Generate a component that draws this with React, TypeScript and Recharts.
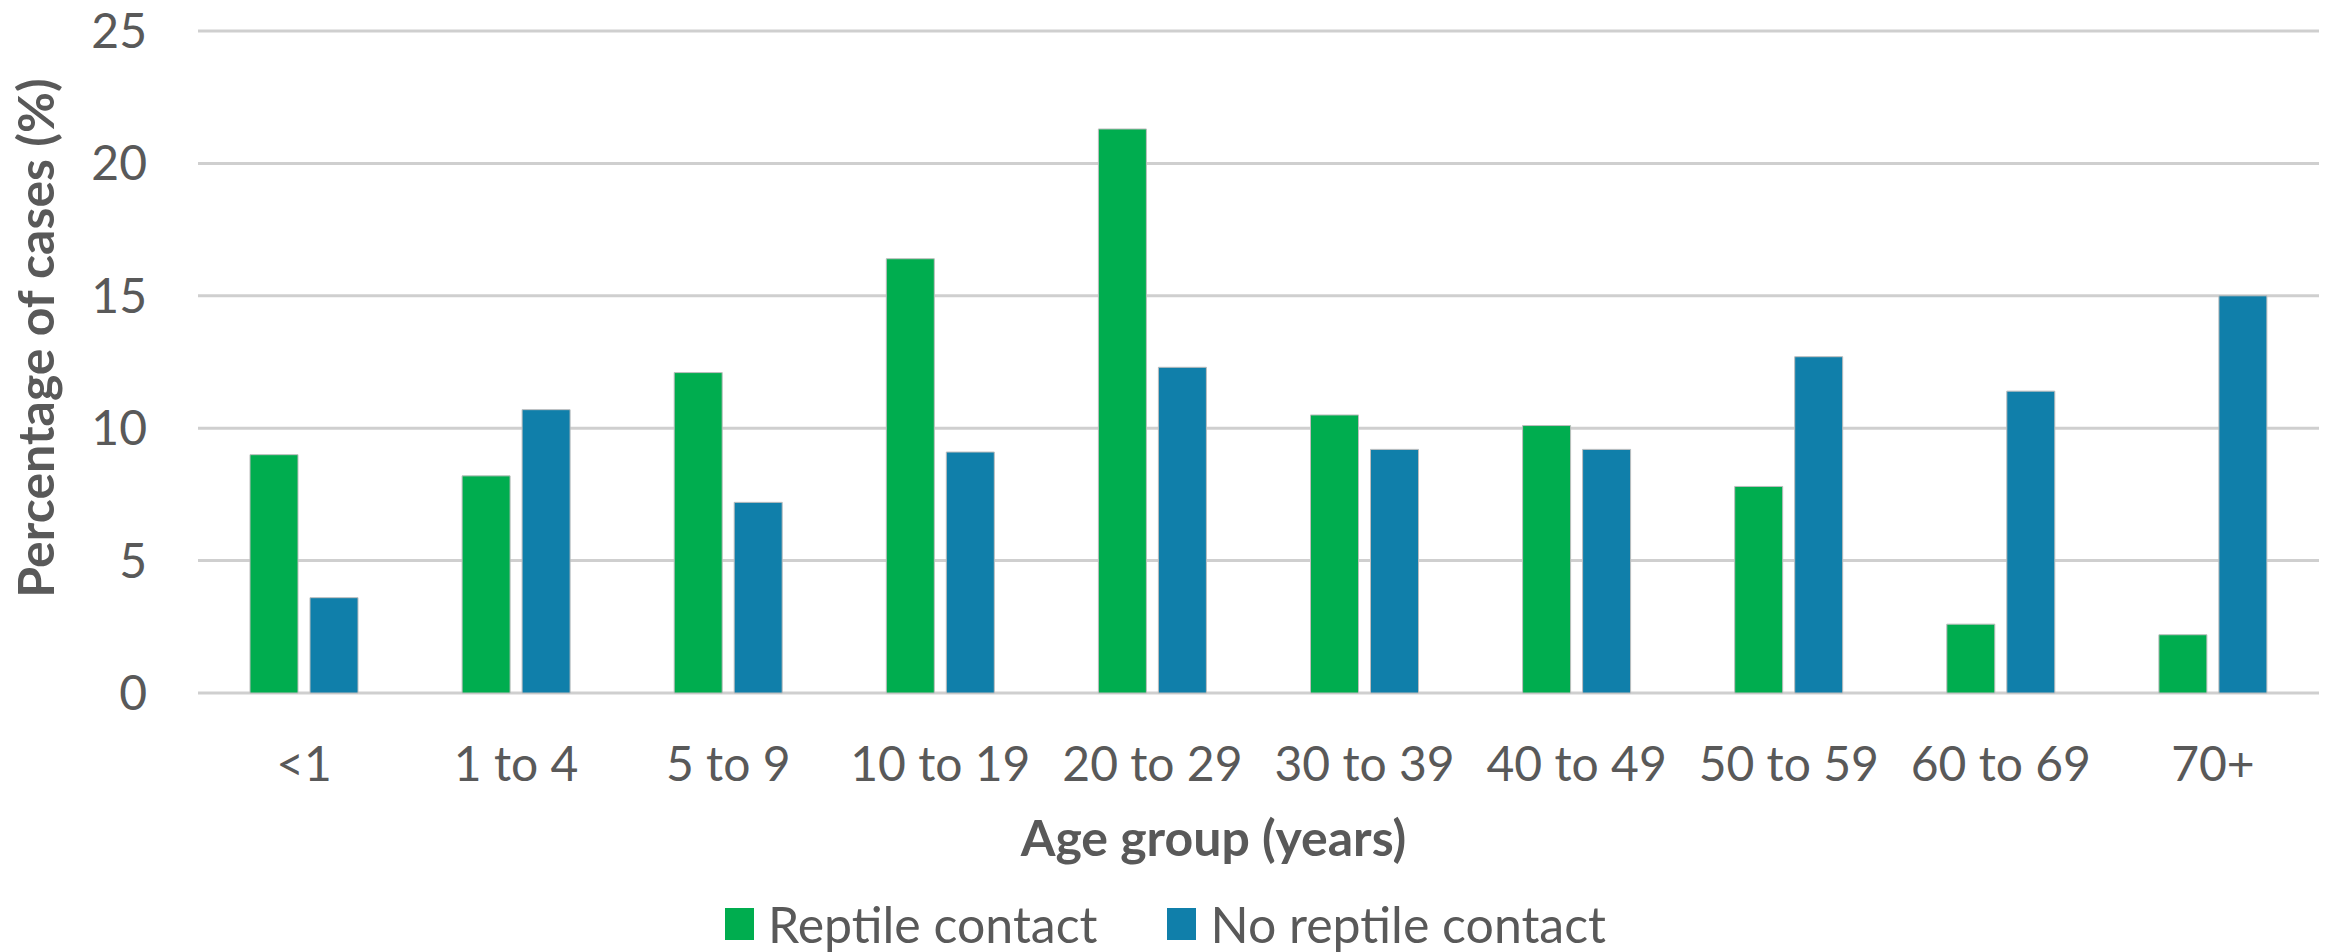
import React from 'react';
import { BarChart, Bar, XAxis, YAxis, CartesianGrid, Legend } from 'recharts';

const ageGroups = ['<1', '1 to 4', '5 to 9', '10 to 19', '20 to 29', '30 to 39', '40 to 49', '50 to 59', '60 to 69', '70+'];
const reptileContact = [9.0, 8.2, 12.1, 16.4, 21.3, 10.5, 10.1, 7.8, 2.6, 2.2];
const noReptileContact = [3.6, 10.7, 7.2, 9.1, 12.3, 9.2, 9.2, 12.7, 11.4, 15.0];
const yTicks = [0, 5, 10, 15, 20, 25];
const seriesNames = ['Reptile contact', 'No reptile contact'];

const GREEN = '#00AD4F';
const BLUE = '#107FAA';
const TEXT = '#595959';
const GRID = '#CFCFCF';
const FONT = 'Lato';

const data = ageGroups.map((g, i) => ({
  group: g,
  reptile: reptileContact[i],
  noReptile: noReptileContact[i],
}));

const YTitle = (props: any) => {
  const vb = props.viewBox || { x: 0, y: 31, width: 198, height: 662 };
  const cx = vb.x + 54;
  const cy = vb.y + vb.height / 2 - 24;
  return (
    <text
      x={cx}
      y={cy}
      transform={`rotate(-90, ${cx}, ${cy})`}
      textAnchor="middle"
      fill={TEXT}
      fontSize={50}
      fontWeight={700}
      fontFamily={FONT}
    >
      Percentage of cases (%)
    </text>
  );
};

const XTitle = (props: any) => {
  const vb = props.viewBox || { x: 198, y: 693, width: 2121, height: 199 };
  const cx = vb.x + vb.width / 2 - 45;
  const cy = vb.y + 163;
  return (
    <text x={cx} y={cy} textAnchor="middle" fill={TEXT} fontSize={50} fontWeight={700} fontFamily={FONT}>
      Age group (years)
    </text>
  );
};

const renderLegend = (props: any) => {
  const raw = props.payload || [];
  const items = seriesNames
    .map((n) => raw.find((p: any) => p.value === n))
    .filter(Boolean);
  return (
    <div
      style={{
        display: 'flex',
        justifyContent: 'center',
        alignItems: 'center',
        height: 60,
        paddingTop: 4,
        boxSizing: 'border-box',
        fontFamily: FONT,
        fontSize: 50,
        color: TEXT,
      }}
    >
      {items.map((it: any, i: number) => (
        <div key={i} style={{ display: 'flex', alignItems: 'center', marginLeft: i === 0 ? 0 : 70 }}>
          <div style={{ width: 29, height: 32, background: it.color, marginRight: 14 }} />
          <span style={{ lineHeight: '52px', whiteSpace: 'nowrap' }}>{it.value}</span>
        </div>
      ))}
    </div>
  );
};

export default function App() {
  return (
    <div style={{ position: 'absolute', left: 0, top: 0, width: 2331, height: 952, background: '#fff' }}>
      <BarChart
        width={2331}
        height={952}
        data={data}
        margin={{ top: 31, right: 12, bottom: 0, left: 0 }}
        barSize={48}
        barGap={12}
      >
        <CartesianGrid vertical={false} stroke={GRID} strokeWidth={3} />
        <XAxis
          dataKey="group"
          axisLine={false}
          tickLine={false}
          tickSize={6}
          tickMargin={48}
          height={199}
          interval={0}
          tick={{ fill: TEXT, fontSize: 48, fontFamily: FONT }}
          label={<XTitle />}
        />
        <YAxis
          domain={[0, 25]}
          ticks={yTicks}
          axisLine={false}
          tickLine={false}
          tickSize={6}
          tickMargin={45}
          width={198}
          tick={{ fill: TEXT, fontSize: 48, fontFamily: FONT }}
          label={<YTitle />}
        />
        <Legend
          verticalAlign="bottom"
          content={renderLegend}
          wrapperStyle={{ left: 0, width: 2331 }}
        />
        <Bar dataKey="reptile" name={seriesNames[0]} fill={GREEN} stroke="#BDBDBD" strokeWidth={1} isAnimationActive={false} />
        <Bar dataKey="noReptile" name={seriesNames[1]} fill={BLUE} stroke="#BDBDBD" strokeWidth={1} isAnimationActive={false} />
      </BarChart>
    </div>
  );
}
